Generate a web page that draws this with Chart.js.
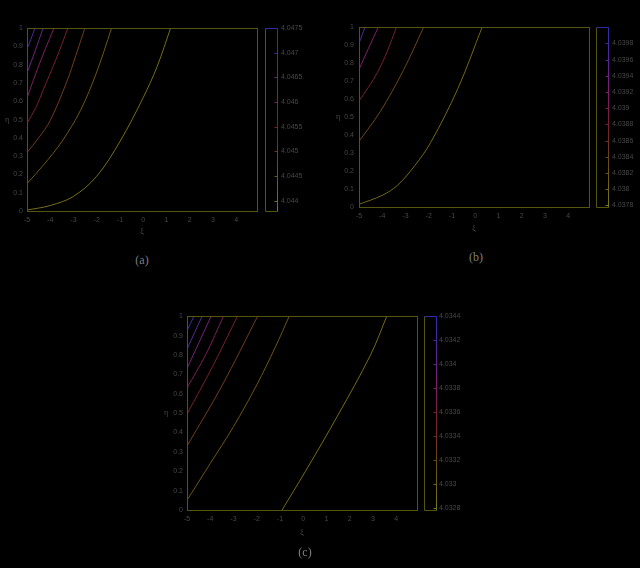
<!DOCTYPE html>
<html><head><meta charset="utf-8">
<script src="https://cdn.jsdelivr.net/npm/chart.js@4"></script>
<style>
html,body{margin:0;padding:0;background:#000;width:640px;height:568px;overflow:hidden;}
canvas{position:absolute;display:block;}
.cap{position:absolute;color:#7e7e7e;font:12px "Liberation Serif",serif;transform:translate(-50%,-50%);white-space:nowrap;}
</style></head><body>
<canvas id="ca" width="320" height="245" style="left:0px;top:0px;width:320px;height:245px"></canvas>
<canvas id="cb" width="315" height="245" style="left:325px;top:0px;width:315px;height:245px"></canvas>
<canvas id="cc" width="320" height="260" style="left:150px;top:290px;width:320px;height:260px"></canvas>
<div class="cap" style="left:142px;top:260px">(a)</div>
<div class="cap" style="left:476px;top:257px">(b)</div>
<div class="cap" style="left:305px;top:552px">(c)</div>
<script>
// ---- shared axes ----
const xTicks = [-5, -4, -3, -2, -1, 0, 1, 2, 3, 4];
const xLabels = ['-5', '-4', '-3', '-2', '-1', '0', '1', '2', '3', '4'];
const yTicks = [0, 0.1, 0.2, 0.3, 0.4, 0.5, 0.6, 0.7, 0.8, 0.9, 1];
const yLabels = ['0', '0.1', '0.2', '0.3', '0.4', '0.5', '0.6', '0.7', '0.8', '0.9', '1'];
const xTitle = 'ξ';
const yTitle = 'η';

// ---- panel (a) ----
const cbTicksA = [4.044, 4.0445, 4.045, 4.0455, 4.046, 4.0465, 4.047, 4.0475];
const cbLabelsA = ['4.044', '4.0445', '4.045', '4.0455', '4.046', '4.0465', '4.047', '4.0475'];
const cbRangeA = [4.04379, 4.0475];
const levelsA = [4.047, 4.0465, 4.046, 4.0455, 4.045, 4.0445, 4.044];
const a1 = [[-5, 0.887], [-4.83, 0.94], [-4.66, 1]];
const a2 = [[-5, 0.755], [-4.65, 0.875], [-4.31, 1]];
const a3 = [[-5, 0.618], [-4.57, 0.77], [-4.2, 0.89], [-3.84, 1]];
const a4 = [[-5, 0.48], [-4.6, 0.57], [-4.31, 0.66], [-3.75, 0.83], [-3.24, 1]];
const a5 = [[-5, 0.32], [-4.5, 0.4], [-4.0, 0.495], [-3.28, 0.71], [-2.9, 0.85], [-2.51, 1]];
const a6 = [[-5, 0.15], [-4.3, 0.25], [-3.5, 0.38], [-2.7, 0.55], [-2.0, 0.76], [-1.36, 1]];
const a7 = [[-5, 0.005], [-4, 0.03], [-3, 0.08], [-2, 0.19], [-1, 0.38], [0, 0.62], [0.6, 0.79], [1.18, 1]];

// ---- panel (b) ----
const cbTicksB = [4.0378, 4.038, 4.0382, 4.0384, 4.0386, 4.0388, 4.039, 4.0392, 4.0394, 4.0396, 4.0398];
const cbLabelsB = ['4.0378', '4.038', '4.0382', '4.0384', '4.0386', '4.0388', '4.039', '4.0392', '4.0394', '4.0396', '4.0398'];
const cbRangeB = [4.03778, 4.04];
const levelsB = [4.0396, 4.0392, 4.0388, 4.0384, 4.038];
const b1 = [[-5, 0.91], [-4.87, 0.955], [-4.74, 1]];
const b2 = [[-5, 0.765], [-4.6, 0.88], [-4.17, 1]];
const b3 = [[-5, 0.59], [-4.6, 0.665], [-4.2, 0.75], [-3.8, 0.86], [-3.39, 1]];
const b4 = [[-5, 0.365], [-4.09, 0.53], [-3.09, 0.76], [-2.22, 1]];
const b5 = [[-5, 0.015], [-4, 0.065], [-3.35, 0.12], [-2.6, 0.23], [-1.91, 0.36], [-0.74, 0.66], [0.3, 1]];

// ---- panel (c) ----
const cbTicksC = [4.0328, 4.033, 4.0332, 4.0334, 4.0336, 4.0338, 4.034, 4.0342, 4.0344];
const cbLabelsC = ['4.0328', '4.033', '4.0332', '4.0334', '4.0336', '4.0338', '4.034', '4.0342', '4.0344'];
const cbRangeC = [4.03278, 4.0344];
const levelsC = [4.0343, 4.0341, 4.0339, 4.0337, 4.0335, 4.0333, 4.0331, 4.0329];
const c1 = [[-5, 0.925], [-4.7, 1]];
const c2 = [[-5, 0.83], [-4.35, 1]];
const c3 = [[-5, 0.73], [-4.5, 0.86], [-3.96, 1]];
const c4 = [[-5, 0.63], [-4.2, 0.8], [-3.43, 1]];
const c5 = [[-5, 0.495], [-3.9, 0.74], [-2.83, 1]];
const c6 = [[-5, 0.33], [-3.5, 0.64], [-1.96, 1]];
const c7 = [[-5, 0.05], [-4, 0.24], [-3, 0.43], [-2, 0.645], [-1.2, 0.84], [-0.6, 1]];
const c8 = [[-0.91, 0], [0.1, 0.2], [1.5, 0.49], [2.9, 0.8], [3.6, 1]];

// ---- styling ----
const PAL = [[0, [120, 120, 24]], [0.25, [105, 76, 20]], [0.45, [118, 32, 42]], [0.65, [125, 32, 110]], [0.82, [85, 40, 150]], [1, [45, 45, 170]]];
function pal(t) {
  t = Math.max(0, Math.min(1, t));
  for (let i = 1; i < PAL.length; i++) {
    if (t <= PAL[i][0]) {
      const [t0, c0] = PAL[i - 1], [t1, c1] = PAL[i];
      const f = (t - t0) / (t1 - t0);
      const c = c0.map((v, k) => Math.round(v + (c1[k] - v) * f));
      return `rgb(${c[0]},${c[1]},${c[2]})`;
    }
  }
  const c = PAL[PAL.length - 1][1];
  return `rgb(${c[0]},${c[1]},${c[2]})`;
}
const BORDER = '#55550f';
const TXT = '#474747';
const FONT = {family: '"Liberation Sans", sans-serif', size: 7};

const framePlugin = {
  id: 'frame',
  afterDatasetsDraw(chart, args, o) {
    const {ctx, chartArea: a} = chart;
    ctx.save();
    ctx.lineWidth = 1;
    ctx.strokeStyle = BORDER;
    const L = Math.round(a.left) + 0.5, T = Math.round(a.top) + 0.5, R = Math.round(a.right) + 0.5, B = Math.round(a.bottom) + 0.5;
    ctx.strokeRect(L, T, R - L, B - T);
    const s = chart.scales.cb;
    const x0 = R + o.cb0, x1 = R + o.cb1;
    const g = ctx.createLinearGradient(0, B, 0, T);
    PAL.forEach(([t, c]) => g.addColorStop(t, `rgb(${c[0]},${c[1]},${c[2]})`));
    ctx.beginPath(); ctx.moveTo(x0, T); ctx.lineTo(x0, B); ctx.lineTo(x1, B); ctx.stroke();
    ctx.strokeStyle = g;
    ctx.beginPath(); ctx.moveTo(x1, B); ctx.lineTo(x1, T); ctx.lineTo(x0, T); ctx.stroke();
    s.ticks.forEach(tk => {
      const y = Math.round(s.getPixelForValue(tk.value)) + 0.5;
      ctx.strokeStyle = pal((tk.value - s.min) / (s.max - s.min));
      ctx.beginPath(); ctx.moveTo(x1 - 3, y); ctx.lineTo(x1, y); ctx.stroke();
    });
    ctx.fillStyle = TXT;
    ctx.font = '8px "Liberation Serif", serif';
    ctx.textAlign = 'center'; ctx.textBaseline = 'middle';
    ctx.fillText(yTitle, a.left - o.ytDx, (a.top + a.bottom) / 2);
    ctx.restore();
  }
};

function makePanel(id, lines, levels, range, cbTicks, cbLabels, g) {
  const datasets = lines.map((pts, i) => ({
    data: pts.map(([x, y]) => ({x, y})),
    showLine: true,
    borderColor: pal((levels[i] - range[0]) / (range[1] - range[0])),
    borderWidth: 1,
    pointRadius: 0,
    fill: false,
    tension: 0.35
  }));
  return new Chart(document.getElementById(id), {
    type: 'scatter',
    data: {datasets},
    plugins: [framePlugin],
    options: {
      responsive: false, animation: false, events: [],
      layout: {padding: g.pad},
      plugins: {legend: {display: false}, tooltip: {enabled: false}, frame: {cb0: g.cb0, cb1: g.cb1, ytDx: g.ytDx}},
      scales: {
        x: {
          type: 'linear', min: -5, max: 4.9,
          afterBuildTicks: s => { s.ticks = xTicks.map(v => ({value: v})); },
          afterFit: s => { s.height = g.xH; },
          ticks: {font: FONT, color: TXT, padding: g.xPad, autoSkip: false, maxRotation: 0, callback: (v, i) => xLabels[i]},
          grid: {display: false, drawTicks: false}, border: {display: false},
          title: {display: true, text: xTitle, color: TXT, font: {family: '"Liberation Serif", serif', size: 8}, padding: 0}
        },
        y: {
          type: 'linear', min: 0, max: 1, position: 'left',
          afterBuildTicks: s => { s.ticks = yTicks.map(v => ({value: v})); },
          afterFit: s => { s.width = g.yW; },
          ticks: {font: FONT, color: TXT, padding: g.yPad, autoSkip: false, callback: (v, i) => yLabels[i]},
          grid: {display: false, drawTicks: false}, border: {display: false}
        },
        cb: {
          type: 'linear', min: range[0], max: range[1], position: 'right',
          afterBuildTicks: s => { s.ticks = cbTicks.map(v => ({value: v})); },
          afterFit: s => { s.width = g.cbW; },
          ticks: {font: FONT, color: TXT, padding: g.cbPad, autoSkip: false, callback: (v, i) => cbLabels[i]},
          grid: {display: false, drawTicks: false}, border: {display: false}
        }
      }
    }
  });
}

makePanel('ca', [a1, a2, a3, a4, a5, a6, a7], levelsA, cbRangeA, cbTicksA, cbLabelsA,
  {pad: {left: 0, top: 7, right: 0, bottom: 8}, xH: 26, yW: 27, cbW: 63, xPad: 5, yPad: 4, cbPad: 24, cb0: 8, cb1: 20, ytDx: 20});
makePanel('cb', [b1, b2, b3, b4, b5], levelsB, cbRangeB, cbTicksB, cbLabelsB,
  {pad: {left: 0, top: 4, right: 0, bottom: 11}, xH: 27, yW: 34, cbW: 51, xPad: 5, yPad: 5, cbPad: 23, cb0: 7, cb1: 19, ytDx: 21});
makePanel('cc', [c1, c2, c3, c4, c5, c6, c7, c8], levelsC, cbRangeC, cbTicksC, cbLabelsC,
  {pad: {left: 0, top: 18, right: 0, bottom: 12}, xH: 28, yW: 37, cbW: 53, xPad: 5, yPad: 4, cbPad: 22, cb0: 7, cb1: 19, ytDx: 21});
</script>
</body></html>
